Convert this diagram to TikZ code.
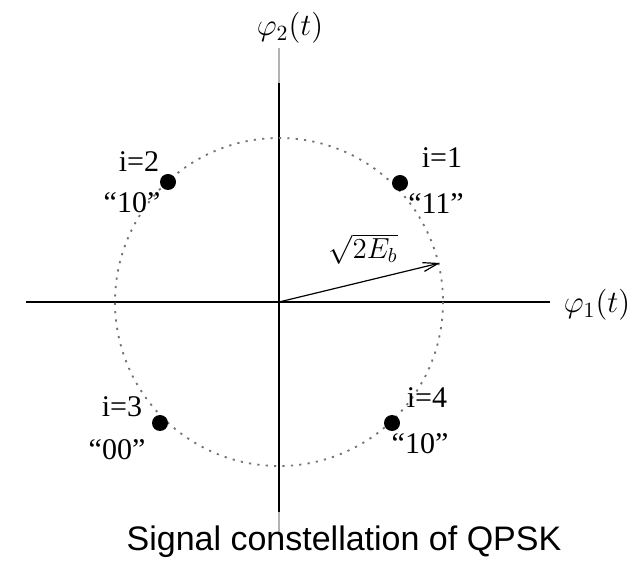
\RequirePackage{fix-cm}
\documentclass[tikz,border=0pt]{standalone}
\usepackage{fontspec}
\setmainfont{Liberation Serif}
\setsansfont{Liberation Sans}
\usetikzlibrary{arrows.meta}

\begin{document}
\begin{tikzpicture}[x=0.5pt, y=-0.5pt, >={Straight Barb[length=7.5pt,width=4.5pt]},
  axis/.style={line width=0.8pt},
  axisend/.style={line width=0.8pt, color=black!30},
  ring/.style={black!55, line width=0.9pt, dash pattern=on 1.1pt off 3.1pt},
  symbol/.style={circle, fill, inner sep=0pt, minimum size=8pt},
  lab/.style={font=\fontsize{15}{18}\selectfont, inner sep=0pt}]
\useasboundingbox (0,0) rectangle (635,565);
\coordinate (O) at (279,302);
% Axes, the vertical one with gray ends
\draw [axis] (26,302) coordinate (xl) -- (550,302) coordinate (xr);
\draw [axisend] (279,48) coordinate (yt) -- (279,83) coordinate (ytb);
\draw [axis] (ytb) -- (279,512) coordinate (ybb);
\draw [axisend] (ybb) -- (279,535) coordinate (yb);
\node [lab, font=\fontsize{15.5}{18}\selectfont] (phitwo) at (290,28) {$\varphi_2(t)$};
\node [lab, font=\fontsize{15.5}{18}\selectfont] (phione) at (597,305) {$\varphi_1(t)$};
% Dotted circle through the four symbols
\draw [ring] (O) circle [radius=164];
% Radius vector
\coordinate (tip) at (440,263);
\draw [->, line width=0.6pt] (O) -- (tip);
\node [lab, font=\fontsize{14.5}{17}\selectfont] (radius) at (363,249) {$\sqrt{2E_b}$};
% The four symbols and their labels
\foreach \n/\px/\py/\ix/\iy/\bits/\bx/\by in {
  1/400/183/442/158/11/436/204,
  2/168/182/139/162/10/132/203,
  3/160/423/122/407/00/117/450,
  4/392/423/427/398/10/420/444} {
  \node [symbol] (s\n) at (\px,\py) {};
  \node [lab] (i\n) at (\ix,\iy) {i=\n};
  \node [lab] (b\n) at (\bx,\by) {``\bits''};
}
\node [font=\sffamily\fontsize{17}{20}\selectfont, inner sep=0pt] (caption) at (344,542) {Signal constellation of QPSK};
\end{tikzpicture}
\end{document}
